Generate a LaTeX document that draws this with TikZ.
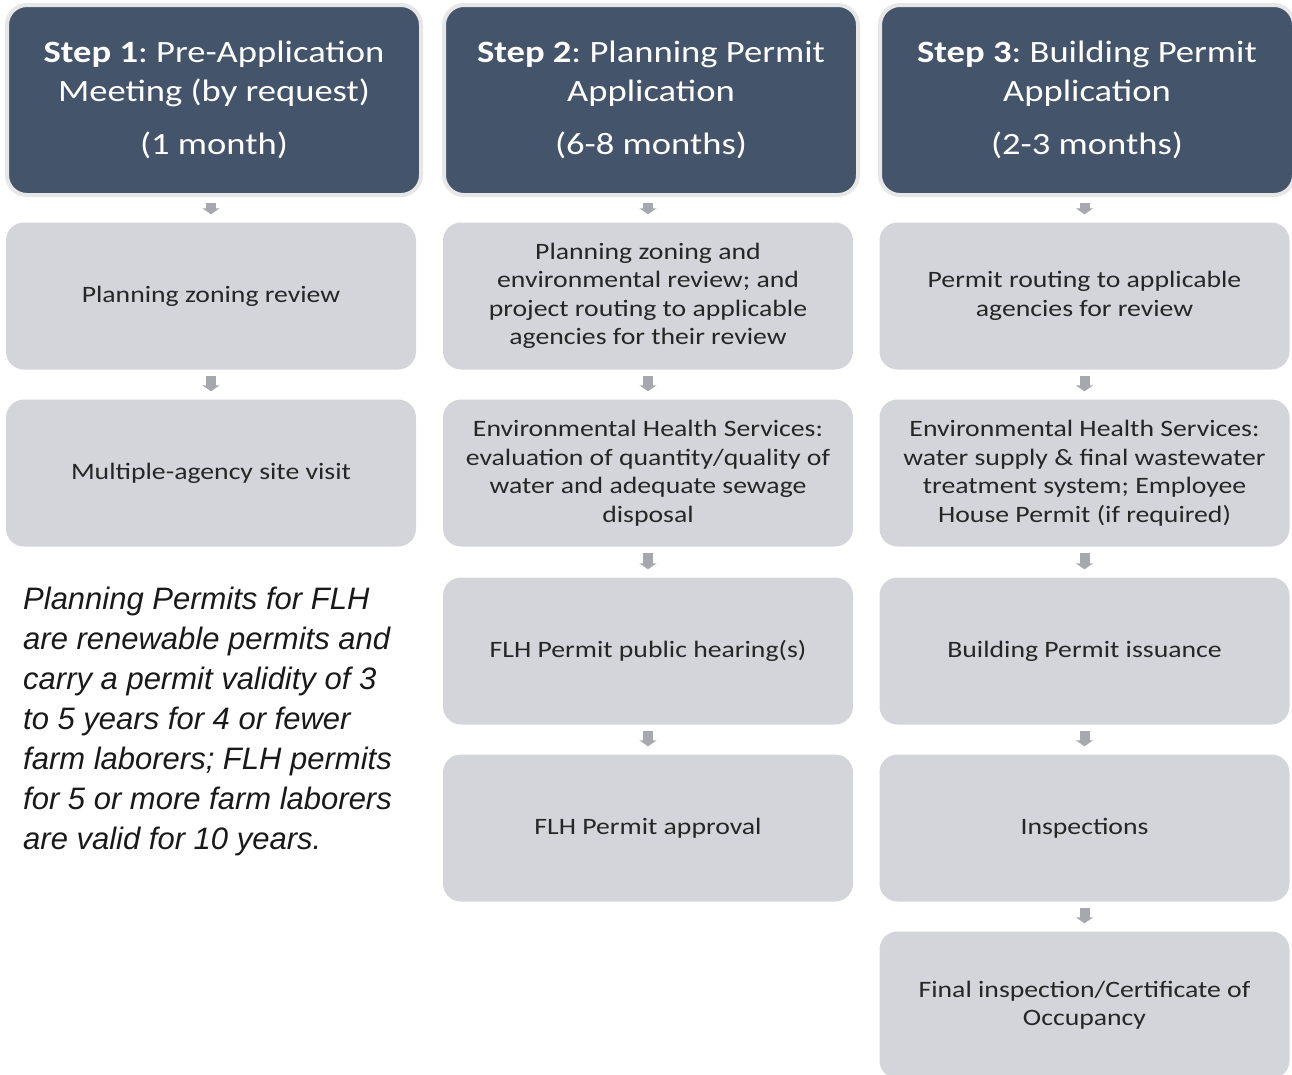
\documentclass[tikz,border=0pt]{standalone}
\usepackage{fontspec}
\setmainfont{Carlito}[FakeStretch=1.18]
\newfontfamily\notefont{Liberation Sans}
\usepackage{xcolor}
\usepackage{tikz}
\usetikzlibrary{arrows.meta}
\definecolor{hdrblue}{RGB}{68, 84, 106}
\definecolor{hdrrim}{RGB}{231, 231, 231}
\definecolor{boxgrey}{RGB}{212, 213, 218}
\definecolor{arrgrey}{RGB}{166, 168, 173}
\definecolor{txtgrey}{RGB}{38, 38, 38}
\frenchspacing

\tikzset{
  header/.style={draw=hdrrim, line width=4pt, fill=hdrblue, rounded corners=20pt,
    minimum width=414pt, minimum height=190pt, inner sep=0pt,
    text=white, align=center, font=\fontsize{31}{39}\selectfont},
  stage/.style={fill=boxgrey, rounded corners=18pt, minimum width=410pt,
    minimum height=147pt, inner sep=0pt, text=txtgrey, align=center,
    font=\fontsize{23.5}{28.5}\selectfont},
  flow/.style={arrgrey, line width=10pt, -{Triangle[width=17pt,length=6pt]},
    shorten <=6pt, shorten >=8pt}
}

\begin{document}
\begin{tikzpicture}[x=1pt,y=-1pt]
\useasboundingbox (0,0) rectangle (1292,1074);

% step headers
\node[header] (h1) at (214,100) {\textbf{Step 1}: Pre-Application\\Meeting (by request)\\[14pt](1 month)};
\node[header] (h2) at (651,100) {\textbf{Step 2}: Planning Permit\\Application\\[14pt](6-8 months)};
\node[header] (h3) at (1087,100) {\textbf{Step 3}: Building Permit\\Application\\[14pt](2-3 months)};

% step 1
\node[stage] (p1) at (211,296) {Planning zoning review};
\node[stage] (p2) at (211,473) {Multiple-agency site visit};

% step 2
\node[stage] (q1) at (648,296) {Planning zoning and\\environmental review; and\\project routing to applicable\\agencies for their review};
\node[stage] (q2) at (648,473) {Environmental Health Services:\\evaluation of quantity/quality of\\water and adequate sewage\\disposal};
\node[stage] (q3) at (648,651) {FLH Permit public hearing(s)};
\node[stage] (q4) at (648,828) {FLH Permit approval};

% step 3
\node[stage] (r1) at (1084.5,296) {Permit routing to applicable\\agencies for review};
\node[stage] (r2) at (1084.5,473) {Environmental Health Services:\\water supply \& final wastewater\\treatment system; Employee\\House Permit (if required)};
\node[stage] (r3) at (1084.5,651) {Building Permit issuance};
\node[stage] (r4) at (1084.5,828) {Inspections};
\node[stage] (r5) at (1084.5,1005) {Final inspection/Certificate of\\Occupancy};

% note
\node[anchor=north west, inner sep=0pt, align=left, text=black!90,
  font=\notefont\itshape\fontsize{31}{40}\selectfont] (note) at (23,587)
  {Planning Permits for FLH\\are renewable permits and\\carry a permit validity of 3\\to 5 years for 4 or fewer\\farm laborers; FLH permits\\for 5 or more farm laborers\\are valid for 10 years.};

\foreach \a/\b in {h1/p1, p1/p2, h2/q1, q1/q2, q2/q3, q3/q4,
                   h3/r1, r1/r2, r2/r3, r3/r4, r4/r5}
  \draw[flow] (\a.south -| \b.north) -- (\b.north);
\end{tikzpicture}
\end{document}
